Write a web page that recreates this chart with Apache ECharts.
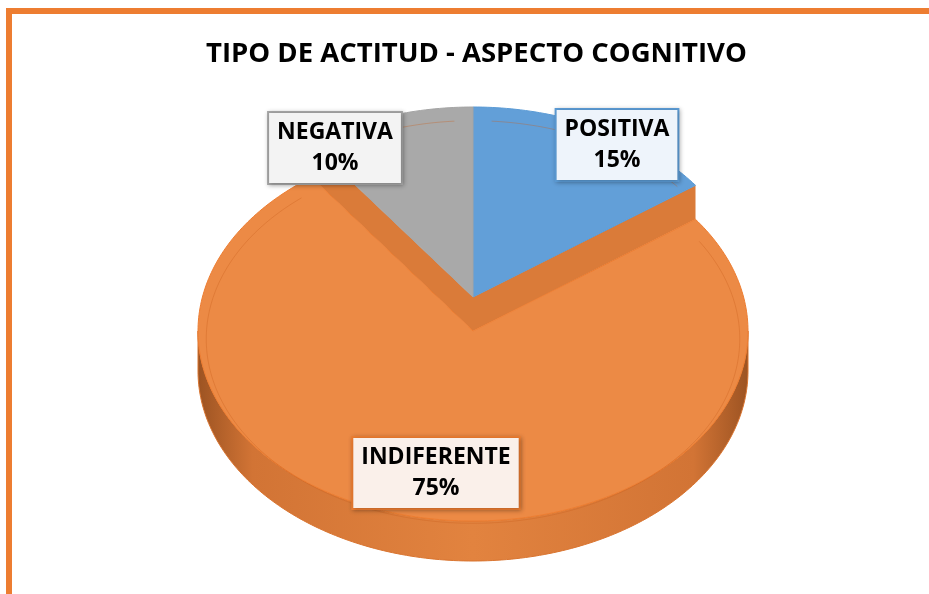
<!DOCTYPE html>
<html>
<head>
    <title>Tipo de actitud - aspecto cognitivo</title>
    <script src="https://cdn.jsdelivr.net/npm/echarts@6.0.0/dist/echarts.min.js"></script>
    <style>
        body { margin: 0; background: #fff; }
        #marco { position: absolute; left: 6px; top: 8px; width: 1000px; height: 700px;
                 border-left: 6px solid #ED7D31; border-top: 6px solid #ED7D31; }
        #chart { position: absolute; left: 0; top: 0; width: 929px; height: 594px; }
    </style>
</head>
<body>
<div id="marco"></div>
<div id="chart"></div>
<script>
    // datos del grafico
    var categorias = ['POSITIVA', 'INDIFERENTE', 'NEGATIVA'];
    var porcentajes = [15, 75, 10];

    // estilos
    var colores = { POSITIVA: '#629FD8', INDIFERENTE: '#EC8A45', NEGATIVA: '#A9A9A9' };
    var bordes = { POSITIVA: '#5B9BD5', INDIFERENTE: '#ED7D31', NEGATIVA: '#A5A5A5' };
    var fondos = { POSITIVA: '#EEF4FB', INDIFERENTE: '#FAF0EA', NEGATIVA: '#F3F3F3' };
    var cajas = { POSITIVA: [617, 145], INDIFERENTE: [436, 473], NEGATIVA: [335, 148] };
    var separacion = { INDIFERENTE: 34 };

    var CX = 473, RX = 275, RY = 190, CY = 297, PROF = 40;
    var total = porcentajes.reduce(function (a, b) { return a + b; }, 0);

    function punto(ang, cy) {
        var r = ang * Math.PI / 180;
        return [CX + RX * Math.sin(r), cy - RY * Math.cos(r)];
    }
    function arco(a0, a1, cy) {
        var pts = [];
        var n = Math.max(2, Math.ceil(Math.abs(a1 - a0)));
        for (var k = 0; k <= n; k++) pts.push(punto(a0 + (a1 - a0) * k / n, cy));
        return pts;
    }

    var chart = echarts.init(document.getElementById('chart'));

    function renderItem(params, api) {
        var i = params.dataIndex;
        var nombre = categorias[i];
        var antes = 0;
        for (var j = 0; j < i; j++) antes += porcentajes[j];
        var a0 = antes / total * 360;
        var a1 = (antes + api.value(0)) / total * 360;
        var dy = separacion[nombre] || 0;
        var cy = CY + dy;
        var hijos = [];

        // pared lateral frontal
        var s0 = Math.max(a0, 90), s1 = Math.min(a1, 270);
        if (s1 > s0) {
            var arriba = arco(s0, s1, cy);
            var abajo = arriba.map(function (p) { return [p[0], p[1] + PROF]; }).reverse();
            hijos.push({
                type: 'polygon', z2: 1,
                shape: { points: arriba.concat(abajo) },
                style: {
                    fill: new echarts.graphic.LinearGradient(0, 0, 1, 0, [
                        { offset: 0, color: '#9C5322' },
                        { offset: 0.1, color: '#D27435' },
                        { offset: 0.5, color: '#E2833F' },
                        { offset: 0.9, color: '#D27435' },
                        { offset: 1, color: '#9C5322' }
                    ]),
                    stroke: '#D9742F', lineWidth: 1
                }
            });
        }

        // paredes radiales de la porcion separada
        if (dy) {
            [a0, a1].forEach(function (a) {
                hijos.push({
                    type: 'polygon', z2: 2,
                    shape: { points: [[CX, CY], punto(a, CY), punto(a, cy), [CX, cy]] },
                    style: { fill: '#DA7B39' }
                });
            });
        }

        // cara superior
        hijos.push({
            type: 'polygon', z2: dy ? 3 : 4,
            shape: { points: [[CX, cy]].concat(arco(a0, a1, cy)) },
            style: { fill: colores[nombre], stroke: bordes[nombre], lineWidth: 1 }
        });

        // bisel
        hijos.push({
            type: 'polyline', z2: 5,
            shape: { points: arco(a0 + 4, a1 - 4, cy + 8).map(function (p) {
                return [CX + (p[0] - CX) * 0.97, cy + 8 + (p[1] - cy - 8) * 0.97];
            }) },
            style: { fill: null, stroke: 'rgba(200,95,30,0.35)', lineWidth: 1 }
        });

        // etiqueta
        var c = cajas[nombre];
        hijos.push({
            type: 'text', z2: 10,
            x: c[0], y: c[1],
            style: {
                text: nombre + '\n' + api.value(0) + '%',
                align: 'center', verticalAlign: 'middle',
                fontFamily: 'Open Sans', fontWeight: 'bold', fontSize: 23,
                lineHeight: 31, fill: '#000',
                backgroundColor: fondos[nombre],
                borderColor: bordes[nombre], borderWidth: 2,
                padding: [4, 8, 4, 8],
                shadowBlur: 4, shadowColor: 'rgba(0,0,0,0.25)', shadowOffsetX: 1, shadowOffsetY: 1
            }
        });

        return { type: 'group', children: hijos };
    }

    var option = {
        animation: false,
        title: {
            text: 'TIPO DE ACTITUD - ASPECTO COGNITIVO',
            left: 201, top: 24,
            textStyle: { fontFamily: 'Open Sans', fontWeight: 'bold', fontSize: 27.5, color: '#000' }
        },
        series: [{
            type: 'custom',
            coordinateSystem: 'none',
            renderItem: renderItem,
            data: porcentajes.map(function (v, i) { return { name: categorias[i], value: [v] }; })
        }]
    };

    chart.setOption(option);
</script>
</body>
</html>
